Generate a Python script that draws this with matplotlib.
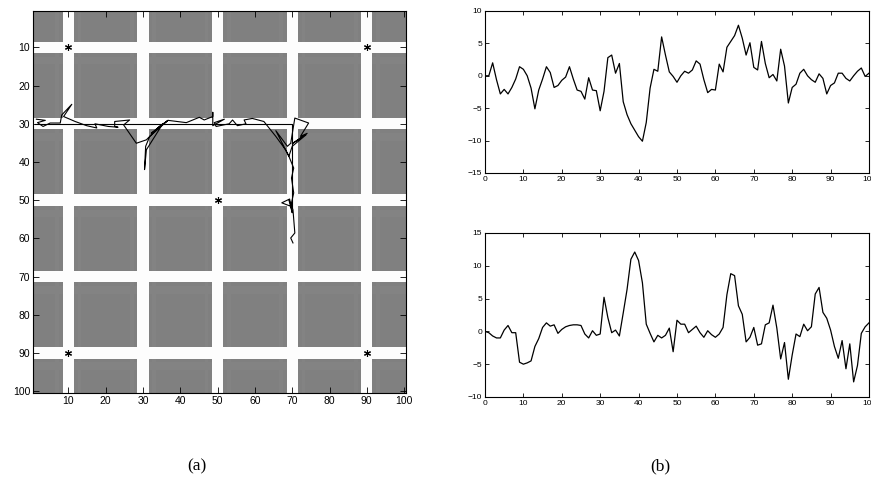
"""
Grid-world tracking figure: (a) estimated path over the road map,
(b) two control signals over time.
"""

import matplotlib
matplotlib.use("Agg")
import matplotlib.pyplot as plt
import numpy as np

# --- map: 100x100 grey field with white roads ---
MAP_SIZE   = 100
ROAD_ROWS  = [10, 30, 50, 70, 90]
ROAD_COLS  = [10, 30, 50, 70, 90]
ROAD_HALF  = 1
LANDMARKS_X = [10, 90, 50, 10, 90]
LANDMARKS_Y = [10, 10, 50, 90, 90]

# reference route (straight) and estimated trajectory
REF_X = [1, 70, 70]
REF_Y = [30, 30, 52]

PATH_X = [1.4, 3.8, 1.7, 3.2, 5.1, 7.8, 8.2, 10.9, 8.7, 11.8, 14.9, 17.6, 17.1,
          20.7, 23.3, 22.4, 22.4, 26.4, 24.8, 28.2, 30.9, 34.4, 36.7, 31.8, 30.7,
          30.4, 30.9, 35.3, 32.2, 36.7, 41.6, 45.1, 46.4, 48.7, 48.7, 48.7, 51.8,
          49.1, 49.6, 53.1, 54.0, 55.3, 57.6, 57.1, 59.3, 62.4, 65.6, 68.2, 69.1,
          65.6, 68.7, 69.6, 70.7, 74.4, 72.2, 74.0, 70.0, 73.7, 70.0, 69.1, 70.4,
          69.8, 70.4, 69.6, 67.2, 69.3, 70.0, 69.1, 70.2, 70.7, 69.6, 70.2]
PATH_Y = [28.8, 29.1, 29.7, 30.7, 29.8, 29.8, 27.7, 24.9, 28.1, 29.4, 30.5, 31.1, 30.0,
          30.7, 30.9, 30.7, 29.4, 29.0, 30.3, 35.1, 34.2, 30.7, 29.1, 33.3, 35.9,
          42.0, 36.8, 30.0, 32.5, 29.1, 29.7, 28.3, 29.0, 28.1, 27.0, 30.5, 28.8,
          29.7, 30.7, 30.0, 29.0, 30.5, 30.0, 29.0, 28.6, 29.4, 33.3, 36.8, 38.5,
          31.8, 35.9, 35.1, 28.5, 29.8, 33.3, 32.5, 35.2, 32.9, 35.9, 38.5, 41.6,
          44.2, 48.1, 51.6, 50.7, 49.7, 53.3, 49.9, 52.5, 58.6, 59.9, 61.2]

# --- signals (b) ---
T = list(range(101))
SIGNAL_1 = [0, 0, 2.0, -0.6, -2.8, -2.1, -2.8, -1.8, -0.5, 1.4,
            1.0, 0, -1.9, -5.1, -2.2, -0.5, 1.4, 0.5, -1.8, -1.5,
            -0.7, -0.2, 1.4, -0.5, -2.2, -2.4, -3.6, -0.3, -2.2, -2.3,
            -5.4, -2.4, 2.8, 3.2, 0.4, 1.9, -4.0, -6.0, -7.4, -8.4,
            -9.4, -10.1, -7.2, -1.9, 1.0, 0.7, 6.0, 3.2, 0.6, -0.1,
            -1.0, 0, 0.7, 0.4, 0.9, 2.3, 1.8, -0.6, -2.6, -2.1,
            -2.2, 1.8, 0.6, 4.4, 5.3, 6.2, 7.8, 5.8, 3.2, 5.1,
            1.3, 0.9, 5.3, 1.9, -0.3, 0.2, -0.8, 4.1, 1.5, -4.2,
            -1.8, -1.3, 0.4, 1.0, 0, -0.6, -1.0, 0.3, -0.4, -2.8,
            -1.5, -1.1, 0.4, 0.4, -0.4, -0.8, 0, 0.7, 1.2, -0.1, 0.4]
SIGNAL_2 = [0, -0.2, -0.7, -1.0, -1.0, 0.2, 0.9, -0.2, -0.2, -4.7,
            -5.0, -4.8, -4.5, -2.3, -1.1, 0.6, 1.3, 0.8, 1.0, -0.3,
            0.3, 0.7, 0.9, 1.0, 1.0, 0.9, -0.4, -1.0, 0.1, -0.6,
            -0.4, 5.2, 2.1, -0.2, 0.2, -0.7, 2.8, 6.4, 11.0, 12.1,
            10.8, 7.4, 1.1, -0.3, -1.6, -0.6, -1.0, -0.6, 0.5, -3.1,
            1.7, 1.1, 1.1, -0.2, 0.3, 0.8, -0.2, -0.9, 0.1, -0.5,
            -0.9, -0.4, 0.6, 5.6, 8.8, 8.5, 3.9, 2.6, -1.6, -0.9,
            0.6, -2.1, -1.9, 1.0, 1.3, 4.0, 0.5, -4.2, -1.7, -7.3,
            -3.6, -0.4, -0.8, 1.1, 0.1, 0.7, 5.7, 6.7, 2.9, 2.0,
            0.2, -2.3, -4.1, -1.4, -5.7, -1.9, -7.7, -5.2, -0.3, 0.7, 1.3]

TICK_FONT = ["Liberation Sans", "DejaVu Sans"]


def build_map():
    grid = np.full((MAP_SIZE, MAP_SIZE), 0.5)
    # faint texture bands alongside the roads
    for c in ROAD_COLS:
        for off in (-3, 3):
            j = c + off - 1
            if 0 <= j < MAP_SIZE:
                grid[:, j] = 0.515
    for r in ROAD_ROWS:
        for off in (3, 4):
            i = r + off - 1
            if 0 <= i < MAP_SIZE:
                grid[i, :] = np.maximum(grid[i, :], 0.515)
    for r in ROAD_ROWS:
        grid[r - 1 - ROAD_HALF:r + ROAD_HALF, :] = 0.99
    for c in ROAD_COLS:
        grid[:, c - 1 - ROAD_HALF:c + ROAD_HALF] = 0.99
    return grid


def style_axes(ax, size, length):
    ax.tick_params(direction="in", top=True, right=True, length=length,
                   width=0.6, labelsize=size, pad=2)
    for lab in ax.get_xticklabels() + ax.get_yticklabels():
        lab.set_family(TICK_FONT)
    for s in ax.spines.values():
        s.set_linewidth(0.8)


def main():
    fig = plt.figure(figsize=(8.71, 4.84), dpi=100)

    # (a) map with trajectory
    ax = fig.add_axes([0.0379, 0.188, 0.4282, 0.789])
    ax.imshow(build_map(), cmap="gray", vmin=0, vmax=1,
              extent=(0.5, MAP_SIZE + 0.5, MAP_SIZE + 0.5, 0.5),
              interpolation="nearest", aspect="auto")
    ax.plot(REF_X, REF_Y, color="k", linewidth=0.8)
    ax.plot(PATH_X, PATH_Y, color="k", linewidth=0.8)
    ax.plot(LANDMARKS_X, LANDMARKS_Y, linestyle="none", marker=(6, 2, 0),
            markersize=5, color="k", markeredgewidth=0.8)
    ax.set_xlim(0.5, 100.5)
    ax.set_ylim(100.5, 0.5)
    ax.set_xticks(range(10, 101, 10))
    ax.set_yticks(range(10, 101, 10))
    style_axes(ax, 7.5, 4)

    # (b) top signal
    ax = fig.add_axes([0.5568, 0.6426, 0.4409, 0.3347])
    ax.plot(T, SIGNAL_1, color="k", linewidth=0.9)
    ax.set_xlim(0, 100)
    ax.set_ylim(-15, 10)
    ax.set_xticks(range(0, 101, 10))
    ax.set_yticks(range(-15, 11, 5))
    style_axes(ax, 6, 3)

    # (b) bottom signal
    ax = fig.add_axes([0.5568, 0.1798, 0.4409, 0.3388])
    ax.plot(T, SIGNAL_2, color="k", linewidth=0.9)
    ax.set_xlim(0, 100)
    ax.set_ylim(-10, 15)
    ax.set_xticks(range(0, 101, 10))
    ax.set_yticks(range(-10, 16, 5))
    style_axes(ax, 6, 3)

    fig.text(197 / 871, 1 - 466 / 484, "(a)", ha="center", va="center",
             fontsize=12.5, family=["Liberation Serif", "DejaVu Serif"])
    fig.text(660 / 871, 1 - 466 / 484, "(b)", ha="center", va="center",
             fontsize=12.5, family=["Liberation Serif", "DejaVu Serif"])

    fig.savefig("out.png", dpi=100)
    plt.close(fig)


if __name__ == "__main__":
    main()
